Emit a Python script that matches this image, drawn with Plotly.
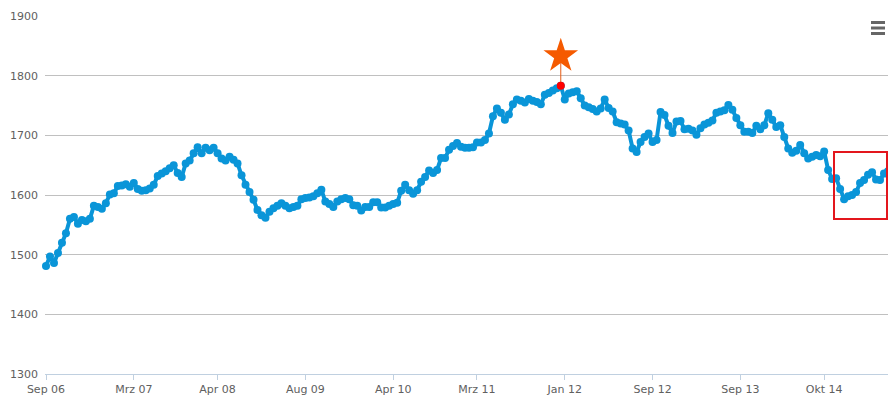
import plotly.graph_objects as go

# ---- data (ordinal series) ----
values = [
    1481, 1497, 1486, 1503, 1520, 1536, 1560, 1563, 1552, 1558,
    1556, 1560, 1582, 1580, 1577, 1586, 1601, 1603, 1615, 1616,
    1618, 1614, 1620, 1610, 1607, 1608, 1611, 1617, 1632, 1636,
    1640, 1645, 1650, 1637, 1630, 1653, 1658, 1670, 1680, 1670,
    1679, 1675, 1679, 1670, 1661, 1658, 1664, 1659, 1653, 1633,
    1617, 1605, 1592, 1575, 1566, 1562, 1572, 1578, 1582, 1586,
    1582, 1578, 1580, 1582, 1593, 1595, 1596, 1598, 1603, 1609,
    1589, 1585, 1580, 1589, 1593, 1595, 1593, 1583, 1582, 1574,
    1580, 1580, 1588, 1588, 1579, 1579, 1582, 1585, 1587, 1607,
    1617, 1608, 1602, 1608, 1622, 1630, 1641, 1637, 1642, 1662,
    1662, 1676, 1682, 1687, 1681, 1679, 1679, 1680, 1688, 1688,
    1692, 1703, 1732, 1745, 1738, 1726, 1735, 1752, 1760, 1758,
    1755, 1761, 1758, 1756, 1752, 1768, 1771, 1775, 1779, 1783,
    1760, 1770, 1772, 1774, 1762, 1750, 1747, 1744, 1740, 1745,
    1760, 1746, 1740, 1722, 1720, 1718, 1708, 1678, 1672, 1689,
    1697, 1703, 1689, 1692, 1739, 1734, 1716, 1704, 1723, 1724,
    1710, 1711, 1708, 1701, 1712, 1718, 1721, 1725, 1738, 1740,
    1742, 1751, 1743, 1729, 1717, 1706, 1706, 1704, 1716, 1710,
    1717, 1737, 1726, 1714, 1717, 1697, 1678, 1671, 1674, 1684,
    1670, 1661, 1664, 1667, 1665, 1673, 1642, 1627, 1628, 1610,
    1593, 1598, 1600, 1605, 1620, 1625, 1634, 1638, 1626, 1625,
    1636, 1640,
]
tick_index = [0, 22, 43, 65, 87, 108, 130, 152, 174, 195]
tick_labels = ["Sep 06", "Mrz 07", "Apr 08", "Aug 09", "Apr 10",
               "Mrz 11", "Jan 12", "Sep 12", "Sep 13", "Okt 14"]
y_ticks = [1300, 1400, 1500, 1600, 1700, 1800, 1900]

x = list(range(len(values)))
imax = max(range(len(values)), key=lambda i: values[i])
vmax = values[imax]
star_offset = 50  # flag height above the peak, in value units

fig = go.Figure()
fig.add_trace(go.Scatter(
    x=x, y=values, mode="lines+markers",
    line=dict(color="#0A95D8", width=4),
    marker=dict(color="#0A95D8", size=8),
    cliponaxis=False, hoverinfo="x+y", showlegend=False,
))
# flag pole from the maximum to the star
fig.add_trace(go.Scatter(
    x=[imax, imax], y=[vmax, vmax + star_offset], mode="lines",
    line=dict(color="#E65A14", width=1), showlegend=False, hoverinfo="skip",
))
fig.add_trace(go.Scatter(
    x=[imax], y=[vmax], mode="markers",
    marker=dict(color="#FF0000", size=8), showlegend=False,
))
fig.add_trace(go.Scatter(
    x=[imax], y=[vmax + star_offset], mode="markers",
    marker=dict(symbol="star", color="#F55A00", size=26, line=dict(width=0)),
    showlegend=False, cliponaxis=False,
))

font_fam = "DejaVu Sans, Verdana, Arial, sans-serif"
# the page body has an 8px margin; the figure sits 8px in from the corner
OFF = 8
W, H = 896 - OFF, 397 - OFF
PL, PR, PT, PB = 45, 889, 16, 374  # plot area in page pixels
L, T = PL - OFF, PT - OFF
R = W - (PR - OFF)
B = H - (PB - OFF)


def px_x(p):
    return (p - PL) / (PR - PL)


def px_y(p):
    return (PB - p) / (PB - PT)


fig.update_layout(
    width=W, height=H,
    margin=dict(l=L, r=R, t=T, b=B, autoexpand=False),
    paper_bgcolor="white", plot_bgcolor="white",
    font=dict(family=font_fam, size=11, color="#606060"),
    xaxis=dict(
        range=[-0.25, len(values) - 0.75], automargin=False,
        tickmode="array", tickvals=tick_index, ticktext=tick_labels,
        showgrid=False, zeroline=False,
        showline=True, linecolor="#C0D0E0", linewidth=1,
        ticks="outside", ticklen=5, tickcolor="#C0D0E0",
        tickfont=dict(size=11, color="#606060"),
    ),
    yaxis=dict(
        range=[1300, 1900], tickmode="array", tickvals=y_ticks,
        automargin=False,
        showgrid=True, gridcolor="#C0C0C0", gridwidth=1,
        zeroline=False, showline=False, ticks="",
        tickfont=dict(size=11, color="#606060"),
        ticklabelstandoff=6,
    ),
    shapes=[
        # red highlight box
        dict(type="rect", xref="paper", yref="paper",
             x0=px_x(834), x1=px_x(887), y0=px_y(219), y1=px_y(152),
             line=dict(color="#E3161D", width=2), fillcolor="rgba(0,0,0,0)"),
        # menu icon
        dict(type="line", xref="paper", yref="paper",
             x0=px_x(871), x1=px_x(885), y0=px_y(22.5), y1=px_y(22.5),
             line=dict(color="#666666", width=3)),
        dict(type="line", xref="paper", yref="paper",
             x0=px_x(871), x1=px_x(885), y0=px_y(28), y1=px_y(28),
             line=dict(color="#666666", width=3)),
        dict(type="line", xref="paper", yref="paper",
             x0=px_x(871), x1=px_x(885), y0=px_y(33.5), y1=px_y(33.5),
             line=dict(color="#666666", width=3)),
    ],
)
fig.write_html("out.html")
